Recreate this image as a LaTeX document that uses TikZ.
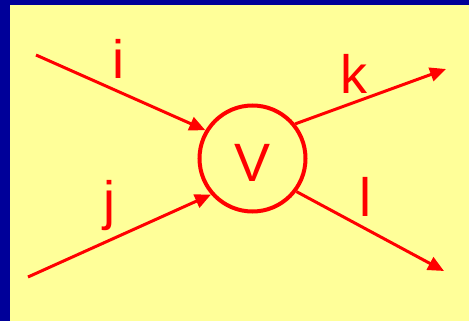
\documentclass[tikz,border=0pt]{standalone}
\usepackage{fontspec}
\setmainfont{Liberation Sans}
\usetikzlibrary{arrows.meta}
\definecolor{bgyellow}{HTML}{FFFF99}
\definecolor{frameblue}{HTML}{000099}
\definecolor{linered}{HTML}{FF0000}
\begin{document}
\begin{tikzpicture}[x=1pt,y=-1pt,
  lbl/.style={text=linered,font=\fontsize{54}{60}\selectfont,inner sep=0pt,anchor=base},
  vert/.style={circle,draw=linered,line width=4pt,minimum size=106pt,inner sep=0pt,
    text=linered,font=\fontsize{54}{60}\selectfont,text height=46.7pt,text depth=0pt},
  conn/.style={draw=linered,line width=3pt,-{Triangle[length=16pt,width=14pt]}}]
  \useasboundingbox (0,0) rectangle (469,321);
  \fill[frameblue] (0,0) rectangle (469,321);
  \fill[bgyellow] (10,5) rectangle (469,321);
  \node[vert] (V) at (252.5,158.5) {V};
  \coordinate (istart) at (36,55);
  \coordinate (jstart) at (28,277);
  \coordinate (kend) at (446,69);
  \coordinate (lend) at (444,271);
  \draw[conn] (istart) -- (V.149);
  \draw[conn] (jstart) -- (V.221);
  \draw[conn] (V.39) -- (kend);
  \draw[conn] (V.323) -- (lend);
  \node[lbl] (ti) at (118,78) {i};
  \node[lbl] (tj) at (109,219) {j};
  \node[lbl] (tk) at (354,93) {k};
  \node[lbl] (tl) at (365.5,216) {l};
\end{tikzpicture}
\end{document}
